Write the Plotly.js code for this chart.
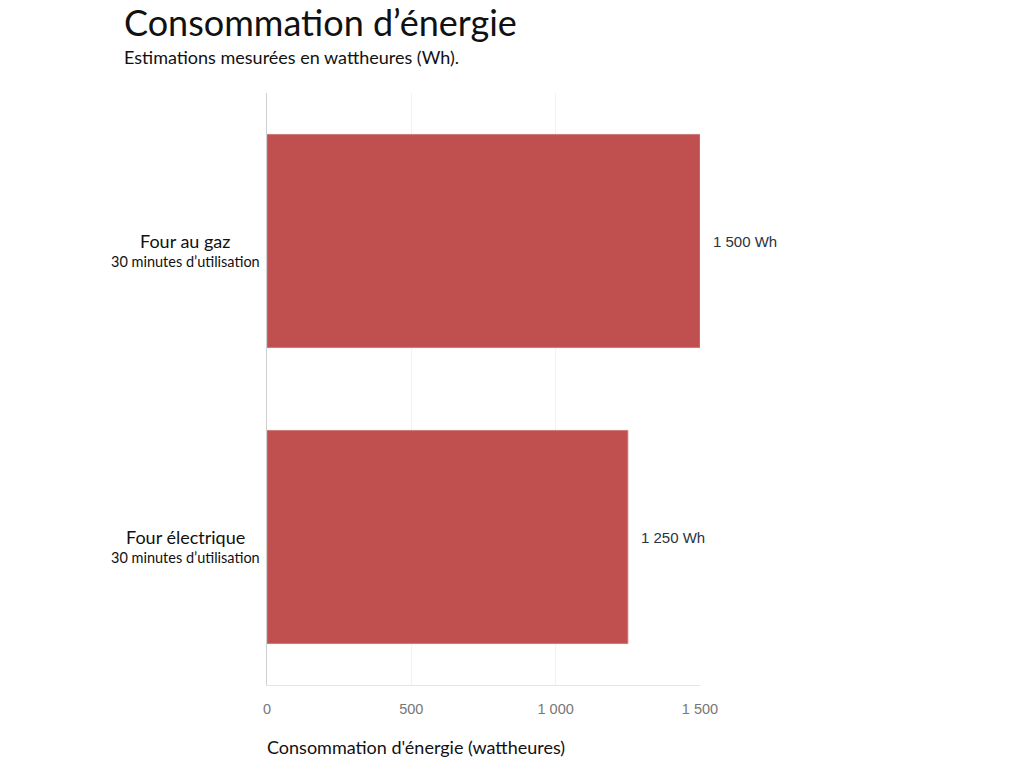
<!DOCTYPE html>
<html>
<head>
<meta charset="utf-8">
<script src="https://cdn.plot.ly/plotly-3.0.1.min.js"></script>
<style>html,body{margin:0;padding:0;background:#fff;}#chart{width:1024px;height:759px;}</style>
</head>
<body>
<div id="chart"></div>
<script>
const categories = ["Four au gaz", "Four électrique"];
const subLabels = ["30 minutes d’utilisation", "30 minutes d’utilisation"];
const values = [1500, 1250];
const valueLabels = ["1 500 Wh", "1 250 Wh"];
const tickVals = [0, 500, 1000, 1500];
const tickLabels = ["0", "500", "1 000", "1 500"];

const labelFont = "Lato, 'Open Sans', sans-serif";

const trace = {
  type: 'bar',
  orientation: 'h',
  x: values,
  y: categories,
  width: 0.72,
  marker: {color: '#c0504f', line: {color: '#d07a78', width: 1}},
  hoverinfo: 'x+y'
};

const annotations = [];
categories.forEach((c, i) => {
  annotations.push({
    xref: 'paper', yref: 'y', x: 0, y: c,
    xanchor: 'center', yanchor: 'middle', xshift: -82, yshift: 0,
    showarrow: false, text: c,
    font: {family: labelFont, size: 18, color: '#111'}
  });
  annotations.push({
    xref: 'paper', yref: 'y', x: 0, y: c,
    xanchor: 'center', yanchor: 'middle', xshift: -82, yshift: -20,
    showarrow: false, text: subLabels[i],
    font: {family: labelFont, size: 14.5, color: '#111'}
  });
  annotations.push({
    xref: 'x', yref: 'y', x: values[i], y: c,
    xanchor: 'left', yanchor: 'middle', xshift: 11,
    showarrow: false, text: valueLabels[i],
    font: {family: "'Liberation Sans', Arial, sans-serif", size: 15, color: '#2b3340'}
  });
});
annotations.push({
  xref: 'paper', yref: 'paper', x: 0, y: 0, yshift: -62,
  xanchor: 'left', yanchor: 'middle', xshift: -2, showarrow: false,
  text: "Consommation d'énergie (wattheures)",
  font: {family: labelFont, size: 18, color: '#111'}
});
annotations.push({
  xref: 'paper', yref: 'paper', x: (125 - 267) / 433, y: 1, yshift: 36, xshift: -3,
  xanchor: 'left', yanchor: 'middle', showarrow: false,
  text: "Estimations mesurées en wattheures (Wh).",
  font: {family: labelFont, size: 18, color: '#111'}
});

const layout = {
  width: 1024, height: 759,
  margin: {l: 267, r: 324, t: 93, b: 74},
  paper_bgcolor: '#fff', plot_bgcolor: '#fff',
  showlegend: false,
  title: {
    text: "Consommation d’énergie",
    x: 124 / 1024, xref: 'container', xanchor: 'left',
    y: 1 - 23 / 759, yref: 'container', yanchor: 'middle',
    font: {family: labelFont, size: 36, color: '#111'}
  },
  xaxis: {
    range: [0, 1500],
    tickvals: tickVals, ticktext: tickLabels,
    showgrid: true, gridcolor: '#f2f2f2', gridwidth: 1,
    zeroline: false,
    showline: true, linecolor: '#e6e6e6', linewidth: 1,
    ticks: '', ticklabelstandoff: 11,
    tickfont: {family: "'Liberation Sans', Arial, sans-serif", size: 14.5, color: '#777'},
    fixedrange: true
  },
  yaxis: {
    type: 'category',
    categoryarray: categories, categoryorder: 'array',
    autorange: false, range: [1.5, -0.5],
    showticklabels: false, showgrid: false, zeroline: false,
    showline: true, linecolor: '#cfcfcf', linewidth: 1,
    fixedrange: true
  },
  annotations: annotations
};

Plotly.newPlot('chart', [trace], layout, {displayModeBar: false, staticPlot: true});
</script>
</body>
</html>
